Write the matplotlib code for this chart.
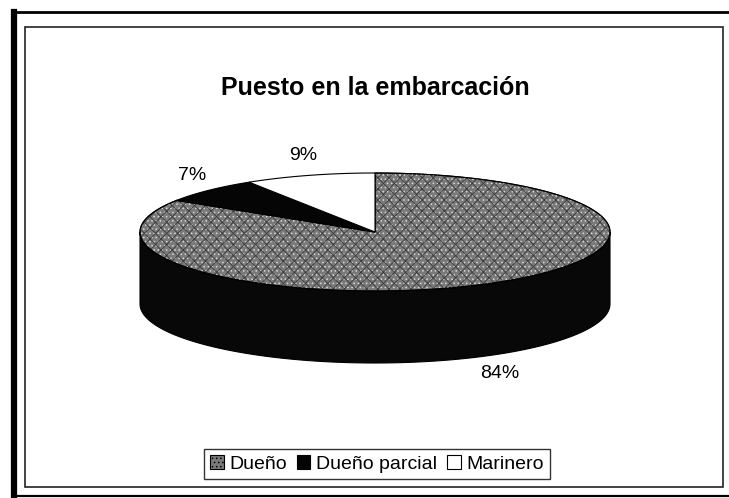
import numpy as np
import matplotlib
matplotlib.use("Agg")
import matplotlib.pyplot as plt
from matplotlib.patches import Polygon, Rectangle

plt.rcParams["font.family"] = ["Liberation Sans", "DejaVu Sans"]
plt.rcParams["hatch.linewidth"] = 0.6

title = "Puesto en la embarcación"
categories = ["Dueño", "Dueño parcial", "Marinero"]
values = [84, 7, 9]
labels = ["84%", "7%", "9%"]
top_colors = ["#7a7a7a", "#050505", "#ffffff"]
side_colors = ["#080808", "#050505", "#f0f0f0"]
hatches = ["....", None, None]

# pie geometry in pixel units
cx, cy = 375, 232
rx, ry = 235, 59
depth = 72

fig = plt.figure(figsize=(7.29, 4.98), dpi=100)
ax = fig.add_axes([0, 0, 1, 1])
ax.set_xlim(0, 729)
ax.set_ylim(498, 0)
ax.axis("off")

# frame (scanned page borders)
ax.add_patch(Rectangle((25, 27), 698, 460, fill=False, ec="#222222", lw=1.2))
ax.plot([14, 14], [12, 498], color="black", lw=4.5)
ax.plot([14, 729], [12, 12], color="black", lw=2.0)
ax.plot([14, 729], [496, 496], color="black", lw=1.6)


def ell(theta, dy=0):
    return cx + rx * np.cos(theta), cy - ry * np.sin(theta) + dy


total = sum(values)
bounds = []
start = np.pi / 2
for v in values:
    end = start - 2 * np.pi * v / total
    bounds.append((start, end))
    start = end

# side walls (front half only, sin < 0)
for (a0, a1), sc in zip(bounds, side_colors):
    lo, hi = min(a0, a1), max(a0, a1)
    segs = []
    for k in range(-1, 2):
        s0, s1 = max(lo, np.pi + 2 * np.pi * k), min(hi, 2 * np.pi + 2 * np.pi * k)
        if s1 > s0:
            segs.append((s0, s1))
    for s0, s1 in segs:
        t = np.linspace(s0, s1, 120)
        x, y = ell(t)
        xb, yb = ell(t[::-1], depth)
        pts = np.column_stack([np.concatenate([x, xb]), np.concatenate([y, yb])])
        ax.add_patch(Polygon(pts, closed=True, fc=sc, ec="black", lw=0.8))

# top faces
for (a0, a1), tc, h in zip(bounds, top_colors, hatches):
    t = np.linspace(a0, a1, 200)
    x, y = ell(t)
    pts = np.column_stack([np.concatenate([[cx], x]), np.concatenate([[cy], y])])
    ax.add_patch(Polygon(pts, closed=True, fc=tc, ec="black", lw=0.8))
    if h:
        ax.add_patch(Polygon(pts, closed=True, fill=False, ec="#d8d8d8", lw=0, hatch=h))
        ax.add_patch(Polygon(pts, closed=True, fill=False, ec="#3a3a3a", lw=0, hatch="xxx"))
        ax.add_patch(Polygon(pts, closed=True, fill=False, ec="black", lw=0.8))

# percentage labels
for (a0, a1), lab in zip(bounds, labels):
    mid = (a0 + a1) / 2
    lx = cx + 1.1 * rx * np.cos(mid)
    ly = cy - 1.35 * ry * np.sin(mid) + (depth if np.sin(mid) < 0 else 0)
    ax.text(lx, ly, lab, ha="center", va="center", fontsize=14, color="black")

ax.text(375, 88, title, ha="center", va="center", fontsize=18, fontweight="bold")

# legend
handles = []
for tc, h in zip(top_colors, hatches):
    handles.append(Rectangle((0, 0), 1, 1, fc=tc, ec="black", lw=0.8, hatch=h))
leg = ax.legend(handles, categories, loc="center", bbox_to_anchor=(377 / 729, 1 - 464 / 498),
                ncol=3, frameon=True, fontsize=14, handlelength=0.7, handleheight=0.7,
                handletextpad=0.3, columnspacing=0.5, borderpad=0.3, fancybox=False)
leg.get_frame().set_edgecolor("black")
leg.get_frame().set_linewidth(1.0)

fig.savefig("out.png", dpi=100)
